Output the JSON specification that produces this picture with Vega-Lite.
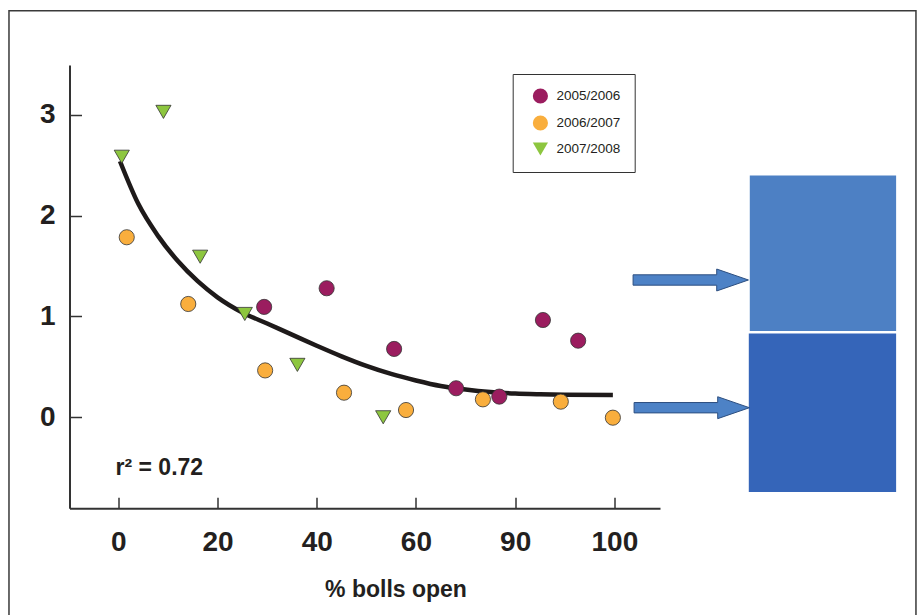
{
  "$schema": "https://vega.github.io/schema/vega-lite/v6.json",
  "width": 590.5,
  "height": 443.3,
  "autosize": "none",
  "padding": {"left": 69.5, "top": 65, "right": 259, "bottom": 106.7},
  "background": "white",
  "config": {
    "view": {"stroke": null},
    "font": "Liberation Sans",
    "axis": {
      "grid": false,
      "domainColor": "#333333",
      "domainWidth": 2,
      "tickColor": "#333333",
      "tickWidth": 1.5,
      "labelFont": "Liberation Sans",
      "labelFontWeight": "bold",
      "labelFontSize": 28,
      "labelColor": "#231f20"
    }
  },
  "layer": [
    {
      "data": {"values": [{"left": -22.04, "right": 160.8, "top": 4.034, "bottom": -2.5}]},
      "mark": {"type": "rect", "filled": false, "stroke": "#3a3a3a", "strokeWidth": 1.5},
      "encoding": {
        "x": {"field": "left", "type": "quantitative"},
        "x2": {"field": "right"},
        "y": {"field": "top", "type": "quantitative"},
        "y2": {"field": "bottom"}
      }
    },
    {
      "data": {"values": [
        {"panel": "upper", "left": 127.3, "right": 156.8, "top": 2.399, "bottom": 0.856}
      ]},
      "mark": {"type": "rect", "fill": "#4d80c4"},
      "encoding": {
        "x": {"field": "left", "type": "quantitative"},
        "x2": {"field": "right"},
        "y": {"field": "top", "type": "quantitative"},
        "y2": {"field": "bottom"}
      }
    },
    {
      "data": {"values": [
        {"panel": "lower", "left": 127.1, "right": 156.8, "top": 0.831, "bottom": -0.741}
      ]},
      "mark": {"type": "rect", "fill": "#3565b9"},
      "encoding": {
        "x": {"field": "left", "type": "quantitative"},
        "x2": {"field": "right"},
        "y": {"field": "top", "type": "quantitative"},
        "y2": {"field": "bottom"}
      }
    },
    {
      "data": {"values": [
        {"pct": 115.4, "value": 1.362},
        {"pct": 115.6, "value": 0.095}
      ]},
      "mark": {"type": "point", "filled": true, "shape": "M-1,-0.09L0.45,-0.09L0.45,-0.19L1,0L0.45,0.19L0.45,0.09L-1,0.09Z", "size": 13300, "fill": "#4d82c6", "stroke": "#2d4f80", "strokeWidth": 1, "opacity": 1},
      "encoding": {
        "x": {"field": "pct", "type": "quantitative"},
        "y": {"field": "value", "type": "quantitative"}
      }
    },
    {
      "data": {"values": [
        {"pct": 0.34, "value": 2.54},
        {"pct": 4, "value": 2.12},
        {"pct": 8, "value": 1.8},
        {"pct": 12, "value": 1.55},
        {"pct": 16, "value": 1.35},
        {"pct": 20, "value": 1.19},
        {"pct": 25, "value": 1.04},
        {"pct": 30, "value": 0.93},
        {"pct": 35, "value": 0.82},
        {"pct": 40, "value": 0.71},
        {"pct": 45, "value": 0.605},
        {"pct": 50, "value": 0.51},
        {"pct": 55, "value": 0.43},
        {"pct": 60, "value": 0.365},
        {"pct": 65, "value": 0.31},
        {"pct": 70, "value": 0.275},
        {"pct": 75, "value": 0.25},
        {"pct": 80, "value": 0.235},
        {"pct": 85, "value": 0.228},
        {"pct": 90, "value": 0.224},
        {"pct": 99.7, "value": 0.221}
      ]},
      "mark": {"type": "line", "color": "#1e1a1a", "strokeWidth": 4.5, "interpolate": "monotone"},
      "encoding": {
        "x": {"field": "pct", "type": "quantitative"},
        "y": {"field": "value", "type": "quantitative"}
      }
    },
    {
      "data": {"values": [
        {"season": "2005/2006", "pct": 29.4, "value": 1.095},
        {"season": "2005/2006", "pct": 42.0, "value": 1.28},
        {"season": "2005/2006", "pct": 55.6, "value": 0.678},
        {"season": "2005/2006", "pct": 68.1, "value": 0.288},
        {"season": "2005/2006", "pct": 76.8, "value": 0.205},
        {"season": "2005/2006", "pct": 85.6, "value": 0.965},
        {"season": "2005/2006", "pct": 92.7, "value": 0.76},
        {"season": "2006/2007", "pct": 1.7, "value": 1.786},
        {"season": "2006/2007", "pct": 14.1, "value": 1.124},
        {"season": "2006/2007", "pct": 29.6, "value": 0.465},
        {"season": "2006/2007", "pct": 45.5, "value": 0.244},
        {"season": "2006/2007", "pct": 58.0, "value": 0.072},
        {"season": "2006/2007", "pct": 73.5, "value": 0.178},
        {"season": "2006/2007", "pct": 89.2, "value": 0.155},
        {"season": "2006/2007", "pct": 99.7, "value": -0.004},
        {"season": "2007/2008", "pct": 0.7, "value": 2.585},
        {"season": "2007/2008", "pct": 9.1, "value": 3.03},
        {"season": "2007/2008", "pct": 16.5, "value": 1.593},
        {"season": "2007/2008", "pct": 25.5, "value": 1.025},
        {"season": "2007/2008", "pct": 36.1, "value": 0.52},
        {"season": "2007/2008", "pct": 53.4, "value": 0.0}
      ]},
      "mark": {"type": "point", "filled": true, "size": 230, "stroke": "#333333", "strokeWidth": 0.8, "opacity": 1},
      "encoding": {
        "x": {
          "field": "pct", "type": "quantitative",
          "scale": {"domain": [-9.84, 109.2], "nice": false, "zero": false},
          "axis": {
            "values": [0, 20, 40, 60, 80, 100],
            "labelExpr": "datum.value == 80 ? '90' : datum.label",
            "tickSize": -11,
            "labelPadding": 30.7,
            "title": "% bolls open",
            "titleFont": "Liberation Sans",
            "titleFontWeight": "bold",
            "titleFontSize": 23,
            "titleColor": "#231f20",
            "titleX": 326,
            "titleY": 87.7,
            "titleBaseline": "alphabetic",
            "titleAlign": "center",
            "titleAnchor": null
          }
        },
        "y": {
          "field": "value", "type": "quantitative",
          "scale": {"domain": [-0.903, 3.495], "nice": false, "zero": false},
          "axis": {
            "values": [0, 1, 2, 3],
            "format": "d",
            "tickSize": -12,
            "labelPadding": 26.5,
            "title": null
          }
        },
        "fill": {
          "field": "season", "type": "nominal",
          "scale": {"domain": ["2005/2006", "2006/2007", "2007/2008"], "range": ["#9b1d5f", "#f9ae3d", "#8dc63f"]},
          "legend": {
            "orient": "none", "legendX": 443.2, "legendY": 9, "title": null,
            "strokeColor": "#333333", "fillColor": "white", "padding": 14,
            "symbolOffset": 5.7, "rowPadding": 7, "labelOffset": 8,
            "labelFont": "Liberation Sans", "labelFontSize": 13.5, "labelColor": "#231f20",
            "symbolSize": 230, "symbolStrokeColor": "#333333", "symbolStrokeWidth": 0.8,
            "encode": {"legend": {"update": {"strokeWidth": {"value": 1.6}}}}
          }
        },
        "shape": {
          "field": "season", "type": "nominal",
          "scale": {"domain": ["2005/2006", "2006/2007", "2007/2008"], "range": ["circle", "circle", "triangle-down"]},
          "legend": {
            "orient": "none", "legendX": 443.2, "legendY": 9, "title": null,
            "strokeColor": "#333333", "fillColor": "white", "padding": 14,
            "symbolOffset": 5.7, "rowPadding": 7, "labelOffset": 8,
            "labelFont": "Liberation Sans", "labelFontSize": 13.5, "labelColor": "#231f20",
            "symbolSize": 230, "symbolStrokeColor": "#333333", "symbolStrokeWidth": 0.8,
            "encode": {"legend": {"update": {"strokeWidth": {"value": 1.6}}}}
          }
        }
      }
    },
    {
      "data": {"values": [{"label": "r² = 0.72", "pct": -0.56, "value": -0.572}]},
      "mark": {"type": "text", "align": "left", "baseline": "alphabetic", "font": "Liberation Sans", "fontWeight": "bold", "fontSize": 23, "color": "#231f20"},
      "encoding": {
        "x": {"field": "pct", "type": "quantitative"},
        "y": {"field": "value", "type": "quantitative"},
        "text": {"field": "label"}
      }
    }
  ]
}
